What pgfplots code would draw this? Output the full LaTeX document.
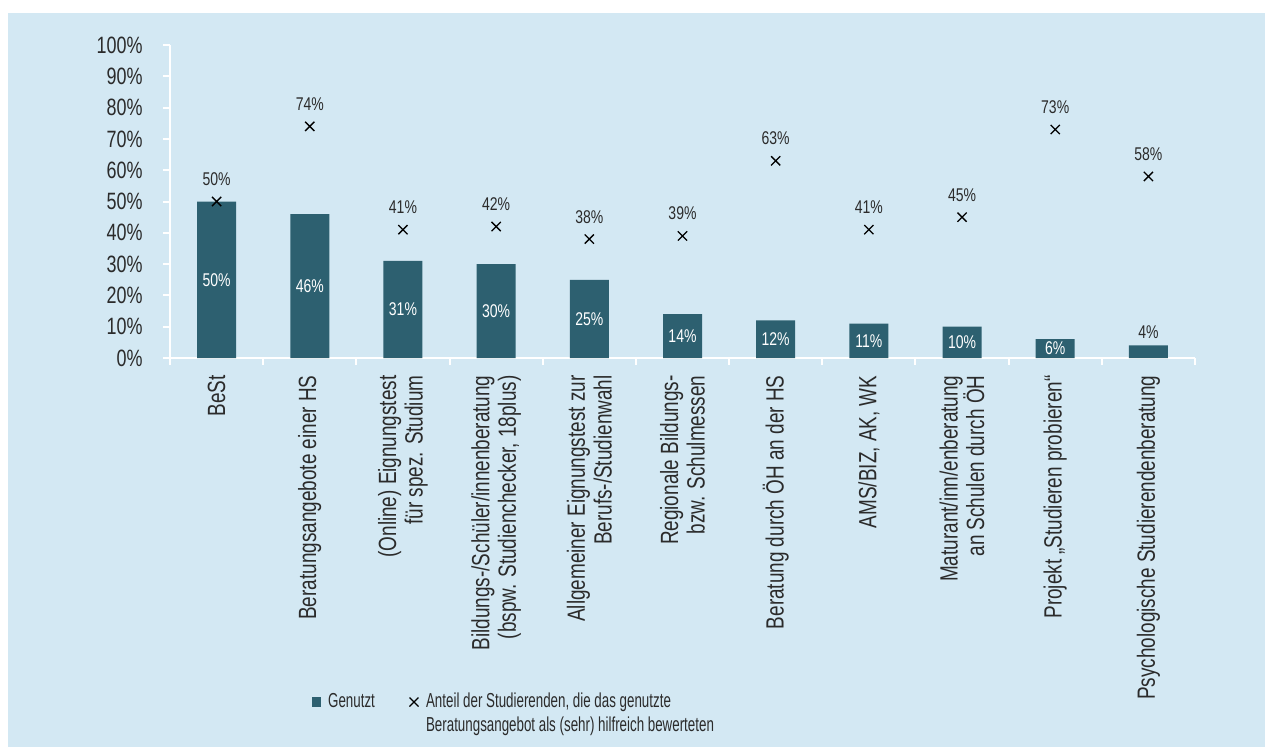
\documentclass[border=0pt]{standalone}
\usepackage{fontspec}
\setmainfont{Liberation Sans}[FakeStretch=0.76]
\newfontfamily\legfont{Liberation Sans}[FakeStretch=0.66]
\usepackage{pgfplots}
\pgfplotsset{compat=1.18}
\definecolor{bgblue}{HTML}{D3E8F3}
\definecolor{barcol}{HTML}{2D6070}
\definecolor{txt}{HTML}{2B2B2B}
\begin{document}
\begin{tikzpicture}
\fill[white] (-170bp,-389bp) rectangle (1095bp,358bp);
\fill[bgblue] (-162bp,-389bp) rectangle (1095bp,345bp);
\begin{axis}[
  at={(0,0)}, anchor=south west,
  scale only axis, width=1025bp, height=313bp,
  xmin=-0.5, xmax=10.5, ymin=0, ymax=100,
  axis x line*=bottom, axis y line*=left,
  axis line style={white, line width=2bp, -},
  tick align=outside,
  major tick length=7bp, minor tick length=7bp,
  xtick={0,...,10},
  major x tick style={draw=none},
  minor xtick={-0.5,0.5,1.5,2.5,3.5,4.5,5.5,6.5,7.5,8.5,9.5,10.5},
  minor x tick style={white, line width=2bp},
  ytick={0,10,...,100},
  major y tick style={white, line width=2bp},
  yticklabels={0\%,10\%,20\%,30\%,40\%,50\%,60\%,70\%,80\%,90\%,100\%},
  yticklabel style={font=\fontsize{23.7}{27}\selectfont, text=txt},
  yticklabel shift=17bp,
  xticklabels={{BeSt},{Beratungsangebote einer HS},{(Online) Eignungstest\\für spez. Studium},{Bildungs-/Schüler/innenberatung\\(bspw. Studienchecker, 18plus)},{Allgemeiner Eignungstest zur\\Berufs-/Studienwahl},{Regionale Bildungs-\\bzw. Schulmessen},{Beratung durch ÖH an der HS},{AMS/BIZ, AK, WK},{Maturant/inn/enberatung\\an Schulen durch ÖH},{Projekt „Studieren probieren“},{Psychologische Studierendenberatung}},
  xticklabel style={rotate=90, anchor=east, align=right, font=\fontsize{25}{26.7}\selectfont, text=txt},
  xticklabel shift=7bp,
  legend style={at={(0.1385,-1.0525)}, anchor=north west, draw=none, fill=none, inner sep=0pt,
    font=\legfont\fontsize{20.3}{25}\selectfont, text=txt, cells={anchor=base west},
    /tikz/every even column/.append style={column sep=32bp},
    /tikz/every odd column/.append style={column sep=5bp}},
  legend columns=2,
]
\addplot[ybar, bar width=39bp, bar shift=0pt, fill=barcol, draw=none,
  legend image code/.code={\fill[barcol] (0bp,0bp) rectangle (9bp,10bp);}]
  coordinates {(0,50) (1,46) (2,31) (3,30) (4,25) (5,14) (6,12) (7,11) (8,10) (9,6) (10,4)};
\addlegendentry{Genutzt}
\addplot[only marks, mark=x, mark size=6.5bp, mark options={line width=1.3bp, black},
  point meta=explicit symbolic, nodes near coords,
  nodes near coords style={font=\fontsize{18.5}{21}\selectfont, text=txt, anchor=base, inner sep=0pt, yshift=16bp},
  legend image code/.code={\draw[black, line width=1.2bp] (0bp,0.5bp) -- (9bp,9.5bp) (0bp,9.5bp) -- (9bp,0.5bp);}]
  coordinates {(0,50)[50\%] (1,74)[74\%] (2,41)[41\%] (3,42)[42\%] (4,38)[38\%] (5,39)[39\%] (6,63)[63\%] (7,41)[41\%] (8,45)[45\%] (9,73)[73\%] (10,58)[58\%]};
\addlegendentry{\begin{tabular}[t]{@{}l@{}}Anteil der Studierenden, die das genutzte\\Beratungsangebot als (sehr) hilfreich bewerteten\end{tabular}}
\addplot[draw=none, mark=none, forget plot, point meta=explicit symbolic, nodes near coords,
  nodes near coords style={font=\fontsize{18.5}{21}\selectfont, text=white, anchor=center, inner sep=0pt}]
  coordinates {(0,25)[50\%] (1,23)[46\%] (2,15.5)[31\%] (3,15)[30\%] (4,12.5)[25\%] (5,7)[14\%] (6,6)[12\%] (7,5.5)[11\%] (8,5)[10\%] (9,3)[6\%]};
\addplot[draw=none, mark=none, forget plot, point meta=explicit symbolic, nodes near coords,
  nodes near coords style={font=\fontsize{18.5}{21}\selectfont, text=txt, anchor=base, inner sep=0pt, yshift=7bp}]
  coordinates {(10,4)[4\%]};
\end{axis}
\pgfresetboundingbox
\path[use as bounding box] (-170bp,-389bp) rectangle (1095bp,358bp);
\end{tikzpicture}
\end{document}
